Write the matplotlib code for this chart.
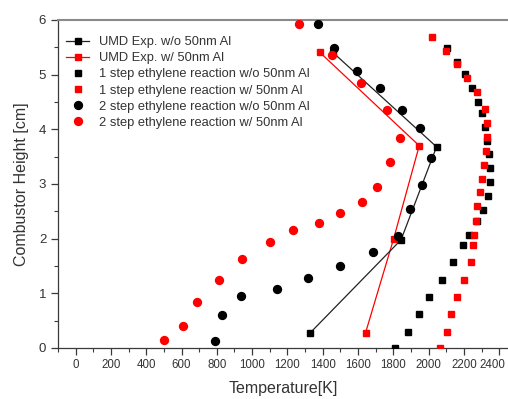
import matplotlib
matplotlib.use("Agg")
import matplotlib.pyplot as plt
from matplotlib.ticker import MultipleLocator
from matplotlib.transforms import ScaledTranslation

plt.rcParams["font.family"] = ["Liberation Sans", "DejaVu Sans"]

# ---------------------------------------------------------------------
# Data (temperature [K], height [cm])
# ---------------------------------------------------------------------
umd_wo_T = [1460, 2045, 1844, 1330]
umd_wo_h = [5.40, 3.68, 1.98, 0.28]

umd_w_T = [1383, 1947, 1802, 1643]
umd_w_h = [5.41, 3.70, 2.00, 0.28]

step1_wo_T = [2105, 2162, 2207, 2248, 2282, 2302, 2321, 2330, 2343, 2350,
              2350, 2339, 2311, 2277, 2231, 2197, 2141, 2075, 2005, 1945,
              1883, 1812]
step1_wo_h = [5.49, 5.24, 5.01, 4.75, 4.50, 4.29, 4.05, 3.79, 3.55, 3.29,
              3.03, 2.78, 2.52, 2.32, 2.07, 1.88, 1.57, 1.24, 0.93, 0.62,
              0.30, 0.00]

step1_w_T = [2018, 2098, 2160, 2219, 2273, 2318, 2329, 2330, 2325, 2313,
             2302, 2292, 2277, 2266, 2259, 2254, 2241, 2199, 2160, 2126,
             2103, 2065]
step1_w_h = [5.69, 5.44, 5.19, 4.94, 4.68, 4.37, 4.12, 3.86, 3.60, 3.35,
             3.10, 2.85, 2.59, 2.33, 2.07, 1.88, 1.57, 1.24, 0.93, 0.62,
             0.30, 0.00]

step2_wo_T = [1376, 1465, 1596, 1724, 1850, 1952, 2012, 1962, 1895, 1829,
              1684, 1499, 1317, 1142, 936, 827, 787]
step2_wo_h = [5.92, 5.48, 5.07, 4.75, 4.36, 4.02, 3.47, 2.98, 2.55, 2.05,
              1.75, 1.50, 1.28, 1.08, 0.96, 0.60, 0.12]

step2_w_T = [1267, 1450, 1618, 1767, 1839, 1782, 1710, 1625, 1499, 1377,
             1229, 1100, 942, 811, 689, 610, 501]
step2_w_h = [5.92, 5.36, 4.85, 4.36, 3.85, 3.41, 2.94, 2.67, 2.47, 2.28,
             2.15, 1.93, 1.63, 1.24, 0.85, 0.40, 0.15]

x_ticks = list(range(0, 2401, 200))
y_ticks = [0, 1, 2, 3, 4, 5, 6]

RED = "#ff0000"
DARK = "#3a3a3a"


def main():
    fig = plt.figure(figsize=(5.08, 3.99), dpi=100)
    ax = fig.add_axes([58 / 508, 51 / 399, 450 / 508, 328 / 399])

    # experimental profiles (lines + squares)
    h_umd_w, = ax.plot(umd_w_T, umd_w_h, color=RED, lw=0.9, marker="s",
                       ms=5, mec=RED, mfc=RED, zorder=2,
                       label="UMD Exp. w/ 50nm Al")
    h_umd_wo, = ax.plot(umd_wo_T, umd_wo_h, color="#222222", lw=0.9,
                        marker="s", ms=5, mec="black", mfc="black", zorder=3,
                        label="UMD Exp. w/o 50nm Al")

    # simulation results (markers only)
    h_s1_wo, = ax.plot(step1_wo_T, step1_wo_h, ls="none", marker="s", ms=5,
                       color="black", zorder=4,
                       label="1 step ethylene reaction w/o 50nm Al")
    h_s1_w, = ax.plot(step1_w_T, step1_w_h, ls="none", marker="s", ms=5,
                      color=RED, zorder=5,
                      label="1 step ethylene reaction w/ 50nm Al")
    h_s2_wo, = ax.plot(step2_wo_T, step2_wo_h, ls="none", marker="o", ms=5.7,
                       color="black", zorder=4,
                       label="2 step ethylene reaction w/o 50nm Al")
    h_s2_w, = ax.plot(step2_w_T, step2_w_h, ls="none", marker="o", ms=5.7,
                      color=RED, zorder=5,
                      label="2 step ethylene reaction w/ 50nm Al")

    ax.set_xlim(-100, 2450)
    ax.set_ylim(0, 6)
    ax.set_xticks(x_ticks)
    ax.set_yticks(y_ticks)
    ax.xaxis.set_minor_locator(MultipleLocator(100))
    ax.yaxis.set_minor_locator(MultipleLocator(0.5))

    ax.tick_params(which="major", direction="out", length=5, width=0.9,
                   color=DARK, labelsize=9.5, labelcolor="#333333")
    ax.tick_params(which="minor", direction="out", length=3, width=0.8,
                   color=DARK)
    ax.tick_params(axis="x", pad=3, labelsize=8.3)

    # last x label sits on the figure edge, nudge it in a little
    last = ax.get_xticklabels()[-1]
    last.set_transform(last.get_transform()
                       + ScaledTranslation(-5 / 72, 0, fig.dpi_scale_trans))

    ax.spines["right"].set_visible(False)
    ax.spines["top"].set_color("#8a8a8a")
    ax.spines["top"].set_linewidth(1.5)
    for side in ("left", "bottom"):
        ax.spines[side].set_color(DARK)
        ax.spines[side].set_linewidth(0.9)

    ax.set_xlabel("Temperature[K]", fontsize=11.5, color="#333333",
                  labelpad=7)
    ax.set_ylabel("Combustor Height [cm]", fontsize=11.5, color="#333333",
                  labelpad=7)

    handles = [h_umd_wo, h_umd_w, h_s1_wo, h_s1_w, h_s2_wo, h_s2_w]
    leg = ax.legend(handles=handles, loc="upper left",
                    bbox_to_anchor=(0.01, 0.962), frameon=False,
                    fontsize=9.3, handlelength=1.75, handletextpad=0.75,
                    labelspacing=0.31, borderaxespad=0.2, borderpad=0.1)
    for t in leg.get_texts():
        t.set_color("#333333")

    fig.savefig("out.png", dpi=100)


if __name__ == "__main__":
    main()
